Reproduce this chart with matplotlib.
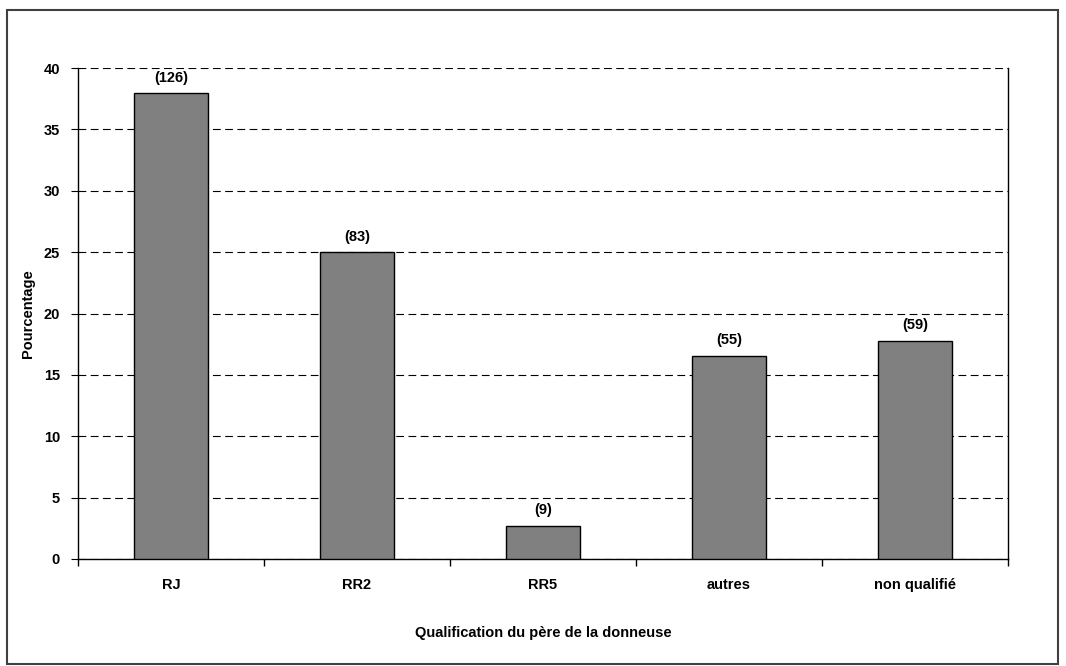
import numpy as np
import matplotlib as mpl
mpl.use('Agg')
import matplotlib.pyplot as plt
from matplotlib.patches import Rectangle

CATEGORIES = ["RJ", "RR2", "RR5", "autres", "non qualifié"]
PERCENT = [37.95, 25.0, 2.71, 16.57, 17.77]
COUNTS = [126, 83, 9, 55, 59]

plt.rcParams['font.family'] = ['Liberation Sans', 'DejaVu Sans']
plt.rcParams['font.weight'] = 'bold'
FS = 10.5

fig = plt.figure(figsize=(10.66, 6.66), dpi=100)
W, H = 1066, 666
# plot area in pixels: left 78, right 1008, top 68, bottom 559
ax = fig.add_axes([78 / W, 1 - 559 / H, (1008 - 78) / W, (559 - 68) / H])

# outer frame around the whole chart
fig.patches.append(Rectangle((7 / W, 2 / H), (1058 - 7) / W, (656 - 2) / H,
                             transform=fig.transFigure, fill=False,
                             edgecolor='#404040', linewidth=1.5))

x = np.arange(len(CATEGORIES))
bars = ax.bar(x, PERCENT, width=0.40, color='#808080', edgecolor='black',
              linewidth=1, zorder=3)

for xi, p, c in zip(x, PERCENT, COUNTS):
    ax.text(xi, p + 0.7, '(%d)' % c, ha='center', va='bottom',
            fontsize=FS, fontweight='bold')

ax.set_xlim(-0.5, len(CATEGORIES) - 0.5)
ax.set_ylim(0, 40)
ax.set_yticks(range(0, 41, 5))
ax.set_xticks(x)
ax.set_xticklabels(CATEGORIES, fontsize=FS, fontweight='bold')
ax.set_xticks(np.arange(-0.5, len(CATEGORIES), 1), minor=True)
ax.tick_params(axis='x', which='major', length=0, pad=14)
ax.tick_params(axis='x', which='minor', length=5, direction='out', width=1)
ax.tick_params(axis='y', length=5, direction='out', labelsize=FS, pad=8)
for lbl in ax.get_yticklabels():
    lbl.set_fontweight('bold')

ax.yaxis.grid(True, color='black', linestyle=(0, (7, 4)), linewidth=0.8)
ax.set_axisbelow(True)
ax.spines['top'].set_visible(False)
for s in ['left', 'right', 'bottom']:
    ax.spines[s].set_linewidth(1)

fig.text(28 / W, 1 - 314 / H, 'Pourcentage', rotation=90, ha='center',
         va='center', fontsize=FS, fontweight='bold')
fig.text(543 / W, 1 - 633 / H, 'Qualification du père de la donneuse',
         ha='center', va='center', fontsize=FS, fontweight='bold')

plt.savefig('out.png', dpi=100)
plt.close(fig)
